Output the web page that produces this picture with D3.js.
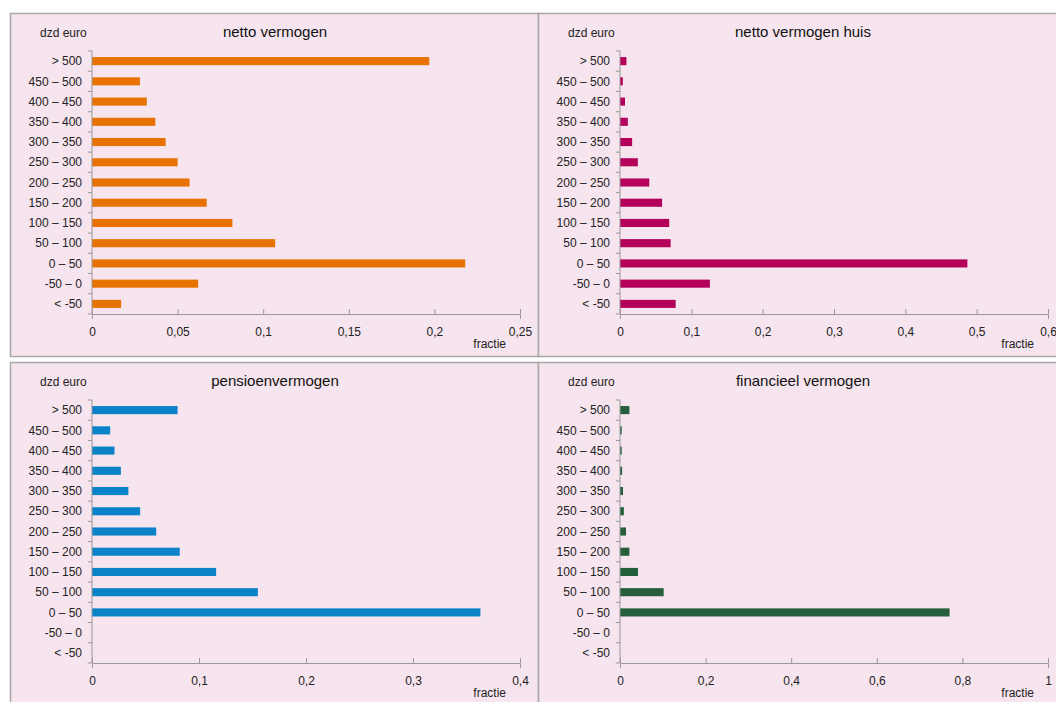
<!DOCTYPE html>
<html><head><meta charset="utf-8">
<script src="https://cdn.jsdelivr.net/npm/d3@7"></script>
<style>body{margin:0;background:#fff}svg{font-family:"Liberation Sans",Arial,sans-serif}</style>
</head><body>
<script>
const categories = ['< -50','-50 – 0','0 – 50','50 – 100','100 – 150','150 – 200','200 – 250','250 – 300','300 – 350','350 – 400','400 – 450','450 – 500','> 500'];
const nettoValues = [0.017,0.062,0.218,0.107,0.082,0.067,0.057,0.050,0.043,0.037,0.032,0.028,0.197];
const huisValues = [0.078,0.126,0.487,0.071,0.069,0.059,0.041,0.025,0.017,0.011,0.007,0.004,0.009];
const pensioenValues = [0,0,0.363,0.155,0.116,0.082,0.060,0.045,0.034,0.027,0.021,0.017,0.080];
const financieelValues = [0,0,0.77,0.102,0.042,0.022,0.014,0.009,0.007,0.005,0.004,0.004,0.022];
const nettoTicks = [0,0.05,0.1,0.15,0.2,0.25];
const huisTicks = [0,0.1,0.2,0.3,0.4,0.5,0.6];
const pensioenTicks = [0,0.1,0.2,0.3,0.4];
const financieelTicks = [0,0.2,0.4,0.6,0.8,1];

const panels = [
  {title:'netto vermogen', values:nettoValues, ticks:nettoTicks, color:'#e87200', x:10, y:13, w:528, h:343},
  {title:'netto vermogen huis', values:huisValues, ticks:huisTicks, color:'#b4005a', x:538, y:13, w:530, h:343},
  {title:'pensioenvermogen', values:pensioenValues, ticks:pensioenTicks, color:'#0a82c8', x:10, y:362, w:528, h:350},
  {title:'financieel vermogen', values:financieelValues, ticks:financieelTicks, color:'#245e3b', x:538, y:362, w:530, h:350}
];

const svg = d3.select('body').append('svg').attr('width',1056).attr('height',702);
const fmt = v => String(v).replace('.', ',');

panels.forEach(p => {
  const g = svg.append('g').attr('transform',`translate(${p.x},${p.y})`);
  g.append('rect').attr('x',0.5).attr('y',0.5).attr('width',p.w).attr('height',p.h)
    .attr('fill','#f6e4ee').attr('stroke','#a8a8a8').attr('stroke-width',1.5);
  const left = 82, right = 510, top = 38, bottom = 301;
  const x = d3.scaleLinear().domain([0, d3.max(p.ticks)]).range([left, right]);
  const y = d3.scaleBand().domain(categories.slice().reverse()).range([top, bottom]).paddingInner(0.6).paddingOuter(0.3);
  const yb = d3.scaleBand().domain(categories.slice().reverse()).range([top, bottom]);
  g.append('text').attr('x',30).attr('y',24).attr('font-size',12).attr('fill','#222').text('dzd euro');
  g.append('text').attr('x',265).attr('y',24).attr('text-anchor','middle').attr('font-size',15).attr('fill','#111').text(p.title);
  g.selectAll('rect.bar').data(categories).enter().append('rect').attr('class','bar')
    .attr('x',x(0)).attr('y',c => y(c)).attr('height',y.bandwidth())
    .attr('width',(c,i) => x(p.values[i]) - x(0)).attr('fill',p.color);
  // y axis with ticks between categories
  const ya = g.append('g').attr('transform',`translate(${x(0)},0)`);
  ya.append('line').attr('y1',top).attr('y2',bottom).attr('stroke','#999');
  ya.selectAll('line.t').data(d3.range(14)).enter().append('line').attr('class','t')
    .attr('x1',-4).attr('x2',0).attr('y1',i => top + i*yb.bandwidth()).attr('y2',i => top + i*yb.bandwidth()).attr('stroke','#999');
  ya.selectAll('text').data(categories).enter().append('text')
    .attr('x',-10).attr('y',c => yb(c) + yb.bandwidth()/2).attr('dy','0.35em')
    .attr('text-anchor','end').attr('font-size',12).attr('fill','#222').text(c => c);
  const xa = g.append('g').attr('transform',`translate(0,${bottom})`)
    .call(d3.axisBottom(x).tickValues(p.ticks).tickSize(5).tickPadding(8).tickFormat(fmt));
  xa.select('.domain').attr('stroke','#999');
  xa.selectAll('.tick line').attr('stroke','#999').attr('transform','translate(0,-5)');
  xa.selectAll('.tick text').attr('font-size',12).attr('fill','#222').attr('font-family','"Liberation Sans",Arial,sans-serif');
  g.append('text').attr('x',496).attr('y',bottom+34).attr('text-anchor','end').attr('font-size',12).attr('fill','#222').text('fractie');
});
</script>
</body></html>
